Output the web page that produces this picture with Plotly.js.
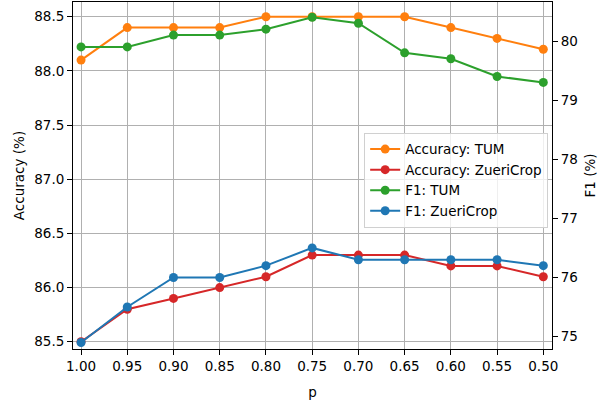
<!DOCTYPE html>
<html>
<head>
<meta charset="utf-8">
<script src="https://cdn.plot.ly/plotly-3.0.1.min.js"></script>
<style>html,body{margin:0;padding:0;background:#fff}#chart{width:611px;height:402px}</style>
</head>
<body>
<div id="chart"></div>
<script>
const pValues = [1.00, 0.95, 0.90, 0.85, 0.80, 0.75, 0.70, 0.65, 0.60, 0.55, 0.50];
const pLabels = ["1.00","0.95","0.90","0.85","0.80","0.75","0.70","0.65","0.60","0.55","0.50"];
const accTUM = [88.1, 88.4, 88.4, 88.4, 88.5, 88.5, 88.5, 88.5, 88.4, 88.3, 88.2];
const accZueri = [85.5, 85.8, 85.9, 86.0, 86.1, 86.3, 86.3, 86.3, 86.2, 86.2, 86.1];
const f1TUM = [79.9, 79.9, 80.1, 80.1, 80.2, 80.4, 80.3, 79.8, 79.7, 79.4, 79.3];
const f1Zueri = [74.9, 75.5, 76.0, 76.0, 76.2, 76.5, 76.3, 76.3, 76.3, 76.3, 76.2];
const accTicks = [85.5, 86.0, 86.5, 87.0, 87.5, 88.0, 88.5];
const accTickText = ["85.5","86.0","86.5","87.0","87.5","88.0","88.5"];
const f1Ticks = [75, 76, 77, 78, 79, 80];

const mk = (name, y, color, axis) => ({
  x: pValues, y: y, name: name, type: 'scatter', mode: 'lines+markers',
  yaxis: axis, line: {color: color, width: 2}, marker: {color: color, size: 9}
});

const traces = [
  mk('Accuracy: TUM', accTUM, '#ff7f0e', 'y'),
  mk('Accuracy: ZueriCrop', accZueri, '#d62728', 'y'),
  mk('F1: TUM', f1TUM, '#2ca02c', 'y2'),
  mk('F1: ZueriCrop', f1Zueri, '#1f77b4', 'y2')
];

const font = {family: 'DejaVu Sans, sans-serif', size: 13.5, color: '#000'};
const layout = {
  width: 611, height: 402,
  margin: {l: 73, r: 59, t: 2, b: 53},
  paper_bgcolor: '#fff', plot_bgcolor: '#fff',
  font: font,
  showlegend: true,
  legend: {x: 0.992, y: 0.623, xanchor: 'right', yanchor: 'top',
    bgcolor: 'rgba(255,255,255,0.8)', bordercolor: '#d0d0d0', borderwidth: 1,
    font: font, tracegroupgap: 0, itemwidth: 30},
  xaxis: {
    range: [1.0087, 0.4906], tickvals: pValues, ticktext: pLabels,
    showgrid: true, gridcolor: '#b0b0b0', gridwidth: 1, zeroline: false,
    ticks: 'outside', ticklen: 5, tickcolor: '#000', tickwidth: 1,
    showline: true, linecolor: '#000', linewidth: 1, mirror: true,
    title: {text: 'p', font: font, standoff: 14}
  },
  yaxis: {
    range: [85.433, 88.636], tickvals: accTicks, ticktext: accTickText,
    showgrid: true, gridcolor: '#b0b0b0', gridwidth: 1, zeroline: false,
    ticks: 'outside', ticklen: 5, tickcolor: '#000', tickwidth: 1,
    showline: true, linecolor: '#000', linewidth: 1,
    title: {text: 'Accuracy (%)', font: font, standoff: 6}
  },
  yaxis2: {
    overlaying: 'y', side: 'right',
    range: [74.79, 80.66], tickvals: f1Ticks,
    showgrid: false, zeroline: false,
    ticks: 'outside', ticklen: 5, tickcolor: '#000', tickwidth: 1,
    showline: true, linecolor: '#000', linewidth: 1,
    title: {text: 'F1 (%)', font: font, standoff: 8}
  }
};
Plotly.newPlot('chart', traces, layout, {staticPlot: true, displayModeBar: false});
</script>
</body>
</html>
